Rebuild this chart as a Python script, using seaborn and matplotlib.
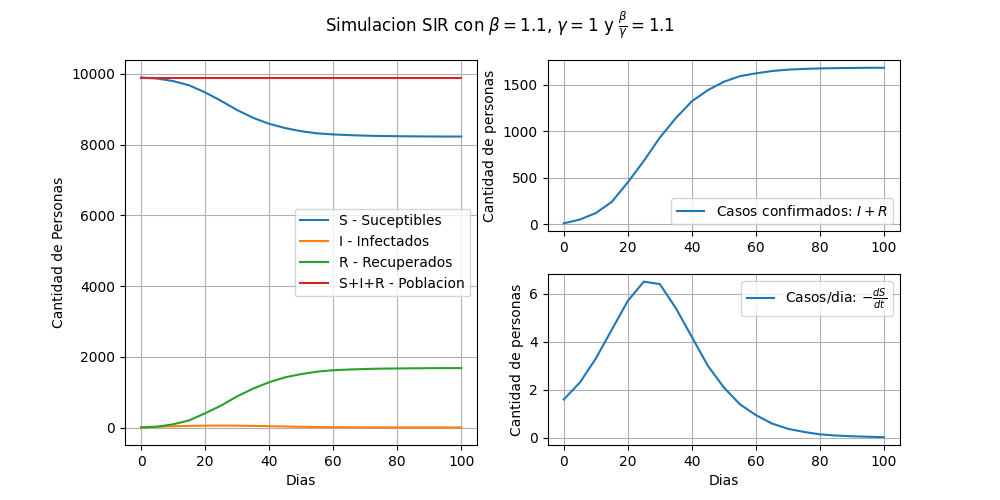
import numpy as np
import matplotlib
matplotlib.use("Agg")
import matplotlib.pyplot as plt
import seaborn as sns

dias = [0, 5, 10, 15, 20, 25, 30, 35, 40, 45, 50, 55, 60, 65, 70, 75, 80, 85, 90, 95, 100]
S = [9900, 9870, 9800, 9680, 9480, 9240, 8980, 8760, 8590, 8470, 8380, 8320, 8290, 8270, 8255, 8245, 8240, 8235, 8232, 8230, 8230]
I = [10, 25, 35, 45, 52, 55, 52, 45, 38, 28, 20, 14, 9, 6, 4, 3, 2, 1, 1, 1, 0]
R = [0, 20, 90, 200, 400, 620, 880, 1100, 1280, 1420, 1510, 1580, 1620, 1640, 1655, 1665, 1670, 1675, 1678, 1680, 1680]
confirmados = [10, 50, 120, 240, 450, 680, 930, 1140, 1320, 1440, 1530, 1590, 1620, 1645, 1660, 1668, 1673, 1676, 1678, 1680, 1680]
casos_dia = [1.6, 2.3, 3.3, 4.5, 5.7, 6.5, 6.4, 5.4, 4.2, 3.0, 2.1, 1.4, 0.95, 0.6, 0.38, 0.25, 0.15, 0.1, 0.07, 0.05, 0.03]
poblacion = [9900] * len(dias)

fig = plt.figure(figsize=(10, 5), dpi=100)
gs = fig.add_gridspec(2, 2, wspace=0.2, hspace=0.25)
ax1 = fig.add_subplot(gs[:, 0])
ax2 = fig.add_subplot(gs[0, 1])
ax3 = fig.add_subplot(gs[1, 1])

sns.lineplot(x=dias, y=S, ax=ax1, label="S - Suceptibles")
sns.lineplot(x=dias, y=I, ax=ax1, label="I - Infectados")
sns.lineplot(x=dias, y=R, ax=ax1, label="R - Recuperados")
sns.lineplot(x=dias, y=poblacion, ax=ax1, label="S+I+R - Poblacion")
ax1.set_xlabel("Dias")
ax1.set_ylabel("Cantidad de Personas")
ax1.legend(loc="center right")

sns.lineplot(x=dias, y=confirmados, ax=ax2, label="Casos confirmados: $I+R$")
ax2.set_ylabel("Cantidad de personas")
ax2.legend(loc="lower right")

sns.lineplot(x=dias, y=casos_dia, ax=ax3, label=r"Casos/dia: $-\frac{dS}{dt}$")
ax3.set_xlabel("Dias")
ax3.set_ylabel("Cantidad de personas")
ax3.legend(loc="upper right")

for ax in (ax1, ax2, ax3):
    ax.grid(True)
    ax.set_xticks([0, 20, 40, 60, 80, 100])

fig.suptitle(r"Simulacion SIR con $\beta=1.1$, $\gamma=1$ y $\frac{\beta}{\gamma}=1.1$")
fig.savefig("out.png")
